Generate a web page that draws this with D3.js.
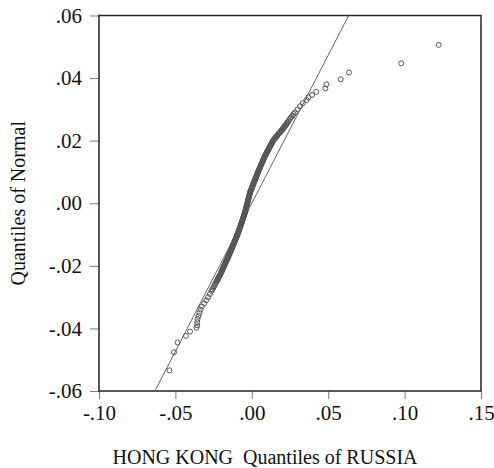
<!DOCTYPE html>
<html>
<head>
    <meta charset="UTF-8">
    <title>HONG KONG Quantiles of RUSSIA</title>
    <style type="text/css">
        body {
            margin: 0;
            background-color: #ffffff;
        }

        .axis path {
            display: none;
        }

        .axis line {
            stroke: #7a7a7a;
        }

        .title {
            font-family: 'Liberation Serif', 'Times New Roman', serif;
            font-size: 20px;
            fill: #111111;
        }
    </style>
</head>
<body>
    <script src="https://d3js.org/d3.v7.min.js"></script>
    <script type="text/javascript">
        const xTicks = [-0.10, -0.05, 0, 0.05, 0.10, 0.15];
        const xTickLabels = ['-.10', '-.05', '.00', '.05', '.10', '.15'];
        const yTicks = [-0.06, -0.04, -0.02, 0, 0.02, 0.04, 0.06];
        const yTickLabels = ['-.06', '-.04', '-.02', '.00', '.02', '.04', '.06'];

        // normal quantiles (y), lowest first
        const qNormal = [
            -0.0534, -0.0476, -0.0445, -0.0424, -0.0410, -0.0398, -0.0390, -0.0380, -0.0370, -0.0360,
            -0.0350, -0.0340, -0.0330, -0.0320, -0.0310, -0.0300, -0.0290, -0.0280, -0.0275, -0.0270,
            -0.0265, -0.0260, -0.0255,
            -0.02500, -0.02475, -0.02450, -0.02425, -0.02400, -0.02375, -0.02350, -0.02325, -0.02300, -0.02275,
            -0.02250, -0.02225, -0.02200, -0.02175, -0.02150, -0.02125, -0.02100, -0.02075, -0.02050, -0.02025,
            -0.02000, -0.01975, -0.01950, -0.01925, -0.01900, -0.01875, -0.01850, -0.01825, -0.01800, -0.01775,
            -0.01750, -0.01725, -0.01700, -0.01675, -0.01650, -0.01625, -0.01600, -0.01575, -0.01550, -0.01525,
            -0.01500, -0.01475, -0.01450, -0.01425, -0.01400, -0.01375, -0.01350, -0.01325, -0.01300, -0.01275,
            -0.01250, -0.01225, -0.01200, -0.01175, -0.01150, -0.01125, -0.01100, -0.01075, -0.01050, -0.01025,
            -0.01000, -0.00975, -0.00950, -0.00925, -0.00900, -0.00875, -0.00850, -0.00825, -0.00800, -0.00775,
            -0.00750, -0.00725, -0.00700, -0.00675, -0.00650, -0.00625, -0.00600, -0.00575, -0.00550, -0.00525,
            -0.00500, -0.00475, -0.00450, -0.00425, -0.00400, -0.00375, -0.00350, -0.00325, -0.00300, -0.00275,
            -0.00250, -0.00225, -0.00200, -0.00175, -0.00150, -0.00125, -0.00100, -0.00075, -0.00050, -0.00025,
            0.00000, 0.00025, 0.00050, 0.00075, 0.00100, 0.00125, 0.00150, 0.00175, 0.00200, 0.00225,
            0.00250, 0.00275, 0.00300, 0.00325, 0.00350, 0.00375, 0.00400, 0.00425, 0.00450, 0.00475,
            0.00500, 0.00525, 0.00550, 0.00575, 0.00600, 0.00625, 0.00650, 0.00675, 0.00700, 0.00725,
            0.00750, 0.00775, 0.00800, 0.00825, 0.00850, 0.00875, 0.00900, 0.00925, 0.00950, 0.00975,
            0.01000, 0.01025, 0.01050, 0.01075, 0.01100, 0.01125, 0.01150, 0.01175, 0.01200, 0.01225,
            0.01250, 0.01275, 0.01300, 0.01325, 0.01350, 0.01375, 0.01400, 0.01425, 0.01450, 0.01475,
            0.01500, 0.01525, 0.01550, 0.01575, 0.01600, 0.01625, 0.01650, 0.01675, 0.01700, 0.01725,
            0.01750, 0.01775, 0.01800, 0.01825, 0.01850, 0.01875, 0.01900, 0.01925, 0.01950, 0.01975,
            0.02000, 0.02025, 0.02050, 0.02075, 0.02100, 0.02125, 0.02150, 0.02175, 0.02200, 0.02225,
            0.02250, 0.02275, 0.02300, 0.02325, 0.02350, 0.02375, 0.02400, 0.02425, 0.02450, 0.02475,
            0.02500, 0.02525, 0.02550, 0.02575, 0.02600,
            0.0265, 0.0270, 0.0275, 0.0280, 0.0285, 0.0290, 0.0300, 0.0310, 0.0320, 0.0330,
            0.0338, 0.0346, 0.0356, 0.0367, 0.0380, 0.0396, 0.0418, 0.0447, 0.0506
        ];

        // sorted RUSSIA returns (x), matching qNormal
        const qRussia = [
            -0.0539, -0.0509, -0.0486, -0.0431, -0.0404, -0.0362, -0.0358, -0.0357, -0.0355, -0.0349,
            -0.0342, -0.0335, -0.0327, -0.0312, -0.0298, -0.0286, -0.0274, -0.0263, -0.0258, -0.0252,
            -0.0247, -0.0241, -0.0236,
            -0.0231, -0.0228, -0.0225, -0.0222, -0.0220, -0.0218, -0.0215, -0.0212, -0.0209, -0.0207,
            -0.0204, -0.0201, -0.0199, -0.0197, -0.0195, -0.0193, -0.0190, -0.0188, -0.0185, -0.0183,
            -0.0181, -0.0179, -0.0176, -0.0174, -0.0172, -0.0170, -0.0167, -0.0165, -0.0162, -0.0160,
            -0.0158, -0.0156, -0.0153, -0.0151, -0.0149, -0.0147, -0.0144, -0.0142, -0.0140, -0.0138,
            -0.0135, -0.0133, -0.0131, -0.0129, -0.0127, -0.0125, -0.0123, -0.0121, -0.0119, -0.0117,
            -0.0115, -0.0113, -0.0111, -0.0109, -0.0106, -0.0104, -0.0102, -0.0100, -0.0098, -0.0096,
            -0.0094, -0.0092, -0.0090, -0.0088, -0.0086, -0.0085, -0.0083, -0.0081, -0.0079, -0.0078,
            -0.0076, -0.0074, -0.0072, -0.0071, -0.0069, -0.0067, -0.0065, -0.0064, -0.0062, -0.0060,
            -0.0058, -0.0057, -0.0055, -0.0053, -0.0051, -0.0050, -0.0048, -0.0047, -0.0045, -0.0044,
            -0.0042, -0.0040, -0.0039, -0.0038, -0.0037, -0.0036, -0.0034, -0.0033, -0.0032, -0.0031,
            -0.0029, -0.0028, -0.0027, -0.0026, -0.0024, -0.0023, -0.0021, -0.0020, -0.0019, -0.0018,
            -0.0016, -0.0015, -0.0014, -0.0013, -0.0011, -0.0009, -0.0007, -0.0005, -0.0003, -0.0001,
            0.0001, 0.0003, 0.0005, 0.0007, 0.0009, 0.0011, 0.0013, 0.0015, 0.0017, 0.0019,
            0.0021, 0.0023, 0.0025, 0.0027, 0.0029, 0.0031, 0.0033, 0.0035, 0.0037, 0.0039,
            0.0041, 0.0043, 0.0045, 0.0047, 0.0050, 0.0052, 0.0054, 0.0056, 0.0059, 0.0061,
            0.0063, 0.0065, 0.0067, 0.0070, 0.0072, 0.0074, 0.0076, 0.0078, 0.0081, 0.0083,
            0.0085, 0.0087, 0.0090, 0.0093, 0.0096, 0.0098, 0.0101, 0.0104, 0.0107, 0.0110,
            0.0112, 0.0115, 0.0118, 0.0120, 0.0123, 0.0126, 0.0129, 0.0132, 0.0134, 0.0137,
            0.0140, 0.0143, 0.0147, 0.0151, 0.0155, 0.0160, 0.0164, 0.0168, 0.0172, 0.0176,
            0.0181, 0.0186, 0.0190, 0.0194, 0.0198, 0.0203, 0.0207, 0.0210, 0.0214, 0.0218,
            0.0222, 0.0226, 0.0229, 0.0233, 0.0236,
            0.0244, 0.0251, 0.0258, 0.0266, 0.0273, 0.0282, 0.0299, 0.0316, 0.0334, 0.0358,
            0.0371, 0.0394, 0.0422, 0.0481, 0.0488, 0.0582, 0.0636, 0.0978, 0.1223
        ];

        // reference line end points
        const refLineX = [-0.0634, 0.0634];
        const refLineY = [-0.06, 0.06];

        const serif = "'Liberation Serif', 'Times New Roman', serif";

        const margin = { top: 15.5, right: 13, bottom: 77, left: 99 },
              width = 494 - margin.left - margin.right,
              height = 468 - margin.top - margin.bottom;

        const svg = d3.select('body').append('svg')
                      .attr('width', 494)
                      .attr('height', 468);

        const g = svg.append('g')
                     .attr('transform', `translate(${margin.left},${margin.top})`);

        const x = d3.scaleLinear().domain([-0.10, 0.15]).range([0, width]),
              y = d3.scaleLinear().domain([-0.06, 0.06]).range([height, 0]);

        // axes
        const xAxisG = g.append('g')
            .attr('class', 'axis axis--x')
            .attr('transform', `translate(0,${height})`)
            .call(d3.axisBottom(x).tickValues(xTicks).tickSize(8).tickPadding(6)
                    .tickFormat((d, i) => xTickLabels[i]));

        const yAxisG = g.append('g')
            .attr('class', 'axis axis--y')
            .call(d3.axisLeft(y).tickValues(yTicks).tickSize(9).tickPadding(8)
                    .tickFormat((d, i) => yTickLabels[i]));

        // d3 puts sans-serif 10px on the axis groups, swap it for the serif face
        [xAxisG, yAxisG].forEach(a => {
            a.attr('font-family', serif).attr('font-size', 21);
            a.selectAll('text').attr('fill', '#111');
        });

        // plot frame
        g.append('rect')
            .attr('x', 0)
            .attr('y', 0)
            .attr('width', width)
            .attr('height', height)
            .attr('fill', 'none')
            .attr('stroke', '#222')
            .attr('stroke-width', 1.5);

        // reference line
        g.append('line')
            .attr('x1', x(refLineX[0]))
            .attr('y1', y(refLineY[0]))
            .attr('x2', x(refLineX[1]))
            .attr('y2', y(refLineY[1]))
            .attr('stroke', '#666')
            .attr('stroke-width', 1);

        // points
        g.selectAll('.dot')
            .data(qRussia.map((v, i) => ({ x: v, y: qNormal[i] })))
            .enter()
            .append('circle')
            .attr('class', 'dot')
            .attr('cx', d => x(d.x))
            .attr('cy', d => y(d.y))
            .attr('r', 2.5)
            .attr('fill', 'none')
            .attr('stroke', '#555')
            .attr('stroke-width', 1);

        // axis titles
        svg.append('text')
            .attr('class', 'title')
            .attr('x', 265)
            .attr('y', 464)
            .attr('text-anchor', 'middle')
            .attr('xml:space', 'preserve')
            .text('HONG KONG  Quantiles of RUSSIA');

        svg.append('text')
            .attr('class', 'title')
            .attr('transform', `translate(25,${margin.top + height / 2}) rotate(-90)`)
            .attr('text-anchor', 'middle')
            .text('Quantiles of Normal');
    </script>
</body>
</html>
